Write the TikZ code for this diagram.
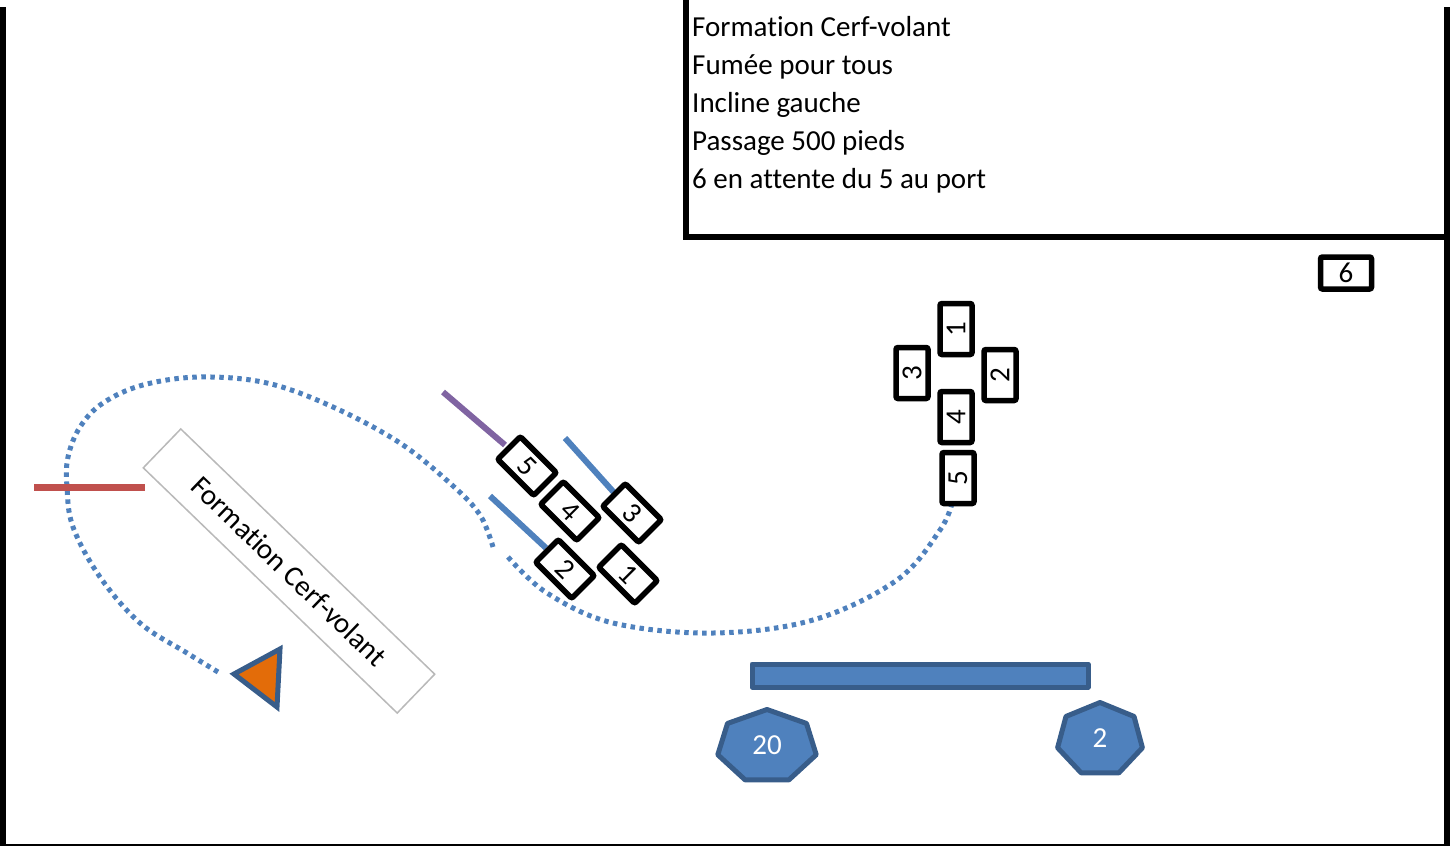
\documentclass[tikz,border=0pt]{standalone}
\usepackage{fontspec}
\setmainfont{Carlito}[Ligatures=NoCommon]
\usetikzlibrary{positioning}

\definecolor{trackblue}{HTML}{4F81BD}
\definecolor{edgeblue}{HTML}{385D8A}
\definecolor{smokered}{HTML}{C0504D}
\definecolor{smokepurple}{HTML}{8064A2}
\definecolor{leadorange}{HTML}{E36C09}

\begin{document}
\begin{tikzpicture}[
    x=1pt, y=-1pt,
    pilot/.style={rectangle, draw=black, line width=5.5, fill=white, rounded corners=2, minimum width=51, minimum height=32, inner sep=0, font=\fontsize{29}{29}\selectfont},
    infoline/.style={anchor=base west, inner sep=0, font=\fontsize{29}{38}\selectfont},
    track/.style={trackblue, line width=5, dash pattern=on 4.5 off 4.5},
    smoke/.style={line width=6},
    crowd/.style={fill=trackblue, draw=edgeblue, line width=5, line join=round},
    crowdnum/.style={text=white, inner sep=0, font=\fontsize{29}{29}\selectfont},
    framebar/.style={line width=6, draw=black}
]
\useasboundingbox (0,0) rectangle (1455,846);

% page frame
\draw[framebar] (3,7) -- (3,846);
\draw[framebar] (1447,7) -- (1447,846);
\draw[black, line width=2] (6,845) -- (1444,845);

% briefing box
\draw[framebar] (685.5,0) -- (685.5,237) -- (1447,237);
\node[infoline] (l1) at (692,36.5) {Formation Cerf-volant};
\node[infoline] (l2) at (692,74.5) {Fumée pour tous};
\node[infoline] (l3) at (692,112.5) {Incline gauche};
\node[infoline] (l4) at (692,150.5) {Passage 500 pieds};
\node[infoline] (l5) at (692,188.5) {6 en attente du 5 au port};

% flight track
\draw[track] plot[smooth, tension=0.6] coordinates {(218,672) (187,653) (140,623) (100,577) (73,527) (67,487) (68,457) (80,427) (103,403) (143,385) (200,377) (267,383) (333,407) (400,443) (452,485) (480,515) (493,547)};
\draw[track] plot[smooth, tension=0.6] coordinates {(508,557) (547,593) (613,623) (713,633) (813,620) (897,580) (940,530) (952,503)};

% entry line and lead marker
\draw[smokered, smoke, line width=7] (34,487) -- (145,487);
\draw[fill=leadorange, draw=edgeblue, line width=5] (234,674) -- (280,649) -- (277,707) -- cycle;

% rotated caption
\node[draw=gray!55, line width=1.5, fill=white, rotate=-44, minimum width=353, minimum height=54, inner sep=0, font=\fontsize{29}{29}\selectfont] (caption) at (289,571) {Formation Cerf-volant};

% smoke trails
\draw[smokepurple, smoke] (443,392) -- (505,445);
\draw[trackblue, smoke] (565,438) -- (618,497);
\draw[trackblue, smoke] (490,496) -- (546,548);

% formation during pass
\node[pilot, rotate=-45] (d5) at (527,466) {5};
\node[pilot, rotate=-45] (d4) at (570,511) {4};
\node[pilot, rotate=-45] (d3) at (632,513) {3};
\node[pilot, rotate=-45] (d2) at (565,569) {2};
\node[pilot, rotate=-45] (d1) at (628,574) {1};

% formation after pass
\node[pilot, rotate=90] (c1) at (956,329) {1};
\node[pilot, rotate=90] (c3) at (912,373) {3};
\node[pilot, rotate=90] (c2) at (1000,375) {2};
\node[pilot, rotate=90] (c4) at (956,417) {4};
\node[pilot, rotate=90] (c5) at (958,478) {5};

% number six holding
\node[pilot] (six) at (1346,273) {6};

% crowd line and stands
\draw[crowd] (752,664) rectangle (1088,687);
\draw[crowd, shift={(767,746.5)}] (-90:50.5 and 37) \foreach \k in {1,...,6} {-- ({-90+\k*360/7}:50.5 and 37)} -- cycle;
\node[crowdnum] (s20) at (767,745) {20};
\draw[crowd, shift={(1100,739.5)}] (-90:43.5 and 37) \foreach \k in {1,...,6} {-- ({-90+\k*360/7}:43.5 and 37)} -- cycle;
\node[crowdnum] (s2) at (1100,738) {2};
\end{tikzpicture}
\end{document}
